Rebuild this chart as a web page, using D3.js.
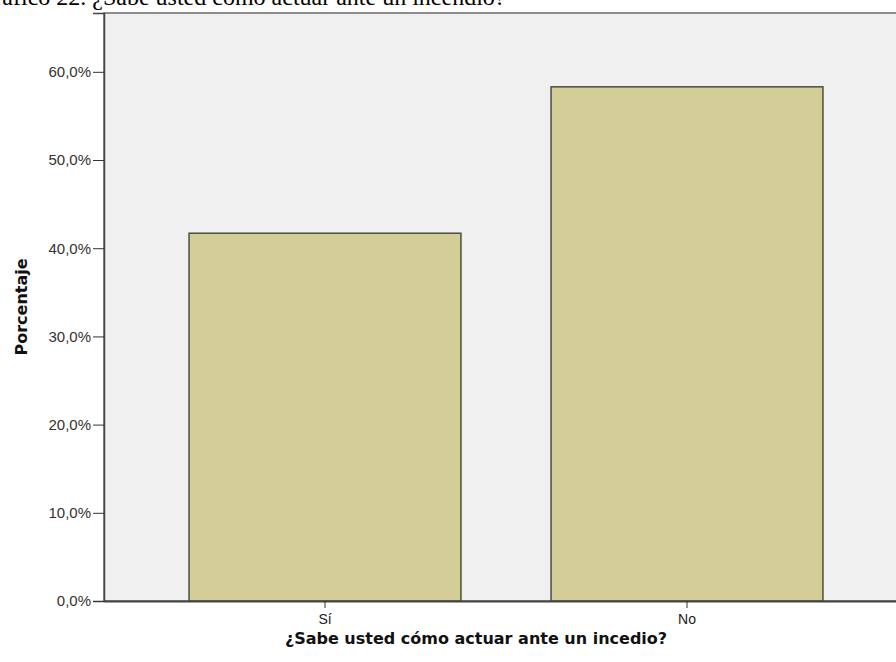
<!DOCTYPE html>
<html><head><meta charset="utf-8">
<script src="https://cdn.jsdelivr.net/npm/d3@7"></script>
<style>html,body{margin:0;padding:0;background:#fff;overflow:hidden}</style>
</head><body>
<svg id="c" width="896" height="662"></svg>
<script>
const categories = ["Sí", "No"];
const values = [41.7, 58.3];
const yTicks = [0, 10, 20, 30, 40, 50, 60];
const title = "Gráfico 22. ¿Sabe usted cómo actuar ante un incendio?";
const xTitle = "¿Sabe usted cómo actuar ante un incedio?";
const yTitle = "Porcentaje";

const svg = d3.select("#c");
const L = 104, T = 13, R = 908, B = 601;

const y = d3.scaleLinear().domain([0, 66.67]).range([B, T]);
const x = d3.scaleBand().domain(categories).range([L, R]).paddingInner(0.249).paddingOuter(0.235);

// plot background
svg.append("rect").attr("x", L).attr("y", T).attr("width", R - L).attr("height", B - T)
  .attr("fill", "#f0f0f0").attr("stroke", "#6b6b6b").attr("stroke-width", 1.5);

// bars
svg.selectAll(".bar").data(values).join("rect")
  .attr("x", (d, i) => x(categories[i]))
  .attr("y", d => y(d))
  .attr("width", x.bandwidth())
  .attr("height", d => B - y(d))
  .attr("fill", "#d3ce97").attr("stroke", "#4e4d40").attr("stroke-width", 1.5);

// y axis
const ya = svg.append("g").attr("transform", `translate(${L},0)`)
  .call(d3.axisLeft(y).tickValues(yTicks).tickSize(11).tickPadding(2)
    .tickFormat(d => d.toFixed(1).replace(".", ",") + "%"));
ya.select(".domain").attr("stroke", "#444").attr("stroke-width", 1.5);
ya.selectAll(".tick line").attr("stroke", "#333");
ya.selectAll("text").attr("font-family", "Liberation Sans, Arial, sans-serif").attr("font-size", 15).attr("fill", "#333");

// x axis
const xa = svg.append("g").attr("transform", `translate(0,${B})`)
  .call(d3.axisBottom(x).tickSize(7).tickPadding(6).tickSizeOuter(0));
xa.select(".domain").attr("stroke", "#444").attr("stroke-width", 2);
xa.selectAll(".tick line").attr("stroke", "#333");
xa.selectAll("text").attr("font-family", "Liberation Sans, Arial, sans-serif").attr("font-size", 14).attr("fill", "#222");

// titles
svg.append("text").attr("x", 476).attr("y", 644).attr("text-anchor", "middle")
  .attr("font-family", "DejaVu Sans, sans-serif").attr("font-weight", "bold").attr("font-size", 16)
  .attr("fill", "#111").text(xTitle);
svg.append("text").attr("transform", "translate(27,307) rotate(-90)").attr("text-anchor", "middle")
  .attr("font-family", "DejaVu Sans, sans-serif").attr("font-weight", "bold").attr("font-size", 16)
  .attr("fill", "#111").text(yTitle);
svg.append("text").attr("x", -23).attr("y", 5)
  .attr("font-family", "Liberation Serif, Times New Roman, serif").attr("font-size", 24)
  .attr("fill", "#000").text(title);
</script>
</body></html>
